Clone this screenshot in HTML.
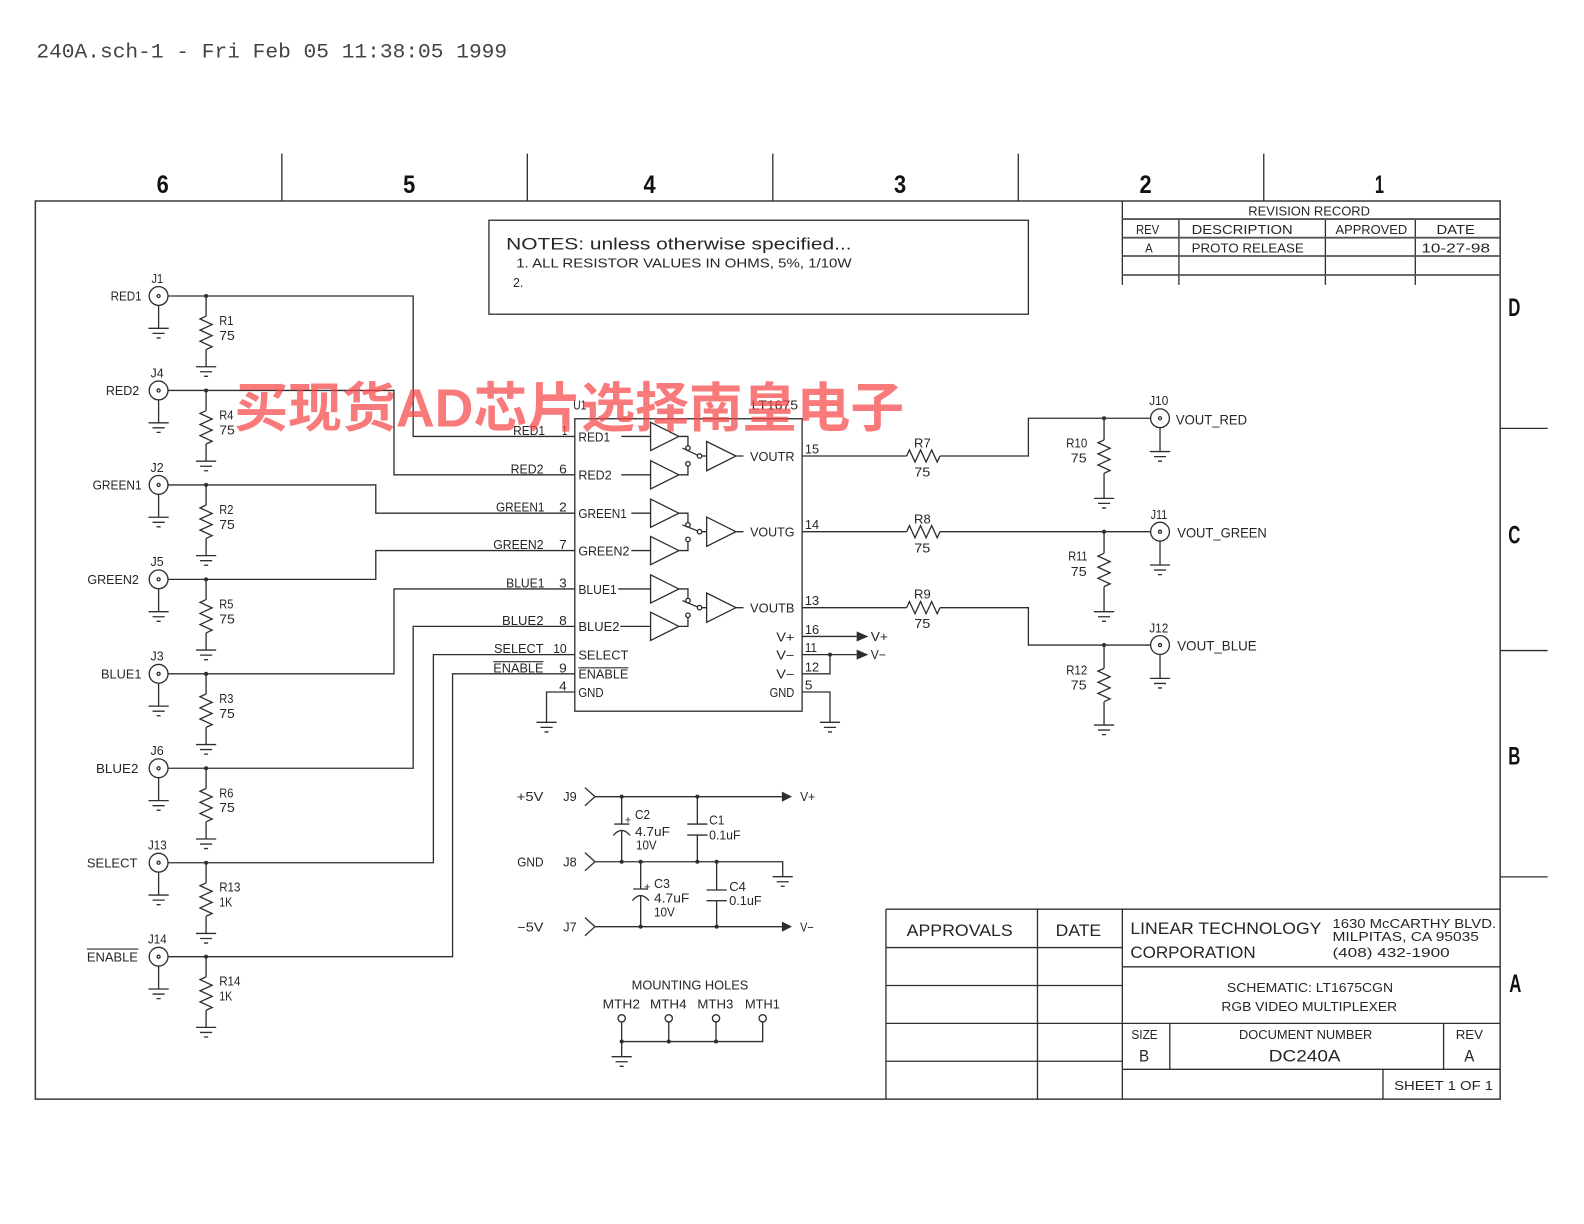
<!DOCTYPE html>
<html><head><meta charset="utf-8"><style>
html,body{margin:0;padding:0;background:#fff;}
svg{display:block;}
text{font-family:"Liberation Sans","Noto Sans CJK SC",sans-serif;fill:#262626;}
.m{font-family:"Liberation Mono",monospace;fill:#444;}
.b{font-weight:bold;fill:#111;}
</style></head><body>
<svg width="1584" height="1224" viewBox="0 0 1568 1211.6" xmlns="http://www.w3.org/2000/svg">
<defs>
 <path id="gnd" d="M-10,0H10M-6,5H6M-2,9.5H2"/>
 <g id="bnc"><circle r="9.3"/><circle r="1.5"/></g>
 <path id="rv" d="M0,0l-6,2.75l12,5.5l-12,5.5l12,5.5l-12,5.5l12,5.5l-6,2.75"/>
 <path id="rh" d="M0,0l2.75,-6l5.5,12l5.5,-12l5.5,12l5.5,-12l5.5,12l2.75,-6"/>
</defs>
<rect x="0" y="0" width="1568" height="1212" fill="#fff"/>

<text class="m" x="36" y="57" font-size="20.5" textLength="466" lengthAdjust="spacingAndGlyphs">240A.sch-1 - Fri Feb 05 11:38:05 1999</text>

<g stroke="#2e2e2e" stroke-width="1.3" fill="none">
<path d="M35,199H1485V1088H35Z" stroke="#3a3a3a" stroke-width="1.5"/>
<path d="M279,152V199M522,152V199M765,152V199M1008,152V199M1251,152V199M1485,424H1532M1485,644H1532M1485,868H1532"/>
<rect x="484" y="218" width="534" height="93"/>
<path d="M1111,199V282M1167,216.8V282M1312,216.8V282M1401,216.8V282"/>
<path d="M1111,216.8H1485M1111,235.3H1485M1111,253.4H1485M1111,272.2H1485" stroke="#555" stroke-width="1.8"/>
<path d="M877,900H1485M877,900V1088M1027,900V1088M1111,900V1088M877,938H1111M877,975.5H1111M877,1013H1111M877,1050.5H1111M1111,957H1485M1111,1013H1485M1111,1058.5H1485M1158,1013V1058.5M1429,1013V1058.5M1369,1058.5V1088"/>

<path d="M166,293H409V432H569M157,302V325M204,293V313M204,346V363"/>
<use href="#bnc" x="157" y="293"/><use href="#gnd" x="157" y="325"/><use href="#rv" x="204" y="313"/><use href="#gnd" x="204" y="363"/>
<path d="M166,386.5H390V470H569M157,395.5V418.5M204,386.5V406.5M204,439.5V456.5"/>
<use href="#bnc" x="157" y="386.5"/><use href="#gnd" x="157" y="418.5"/><use href="#rv" x="204" y="406.5"/><use href="#gnd" x="204" y="456.5"/>
<path d="M166,480H372V508H569M157,489V512M204,480V500M204,533V550"/>
<use href="#bnc" x="157" y="480"/><use href="#gnd" x="157" y="512"/><use href="#rv" x="204" y="500"/><use href="#gnd" x="204" y="550"/>
<path d="M166,573.5H372V545H569M157,582.5V605.5M204,573.5V593.5M204,626.5V643.5"/>
<use href="#bnc" x="157" y="573.5"/><use href="#gnd" x="157" y="605.5"/><use href="#rv" x="204" y="593.5"/><use href="#gnd" x="204" y="643.5"/>
<path d="M166,667H390V583H569M157,676V699M204,667V687M204,720V737"/>
<use href="#bnc" x="157" y="667"/><use href="#gnd" x="157" y="699"/><use href="#rv" x="204" y="687"/><use href="#gnd" x="204" y="737"/>
<path d="M166,760.5H409V620H569M157,769.5V792.5M204,760.5V780.5M204,813.5V830.5"/>
<use href="#bnc" x="157" y="760.5"/><use href="#gnd" x="157" y="792.5"/><use href="#rv" x="204" y="780.5"/><use href="#gnd" x="204" y="830.5"/>
<path d="M166,854H429V648H569M157,863V886M204,854V874M204,907V924"/>
<use href="#bnc" x="157" y="854"/><use href="#gnd" x="157" y="886"/><use href="#rv" x="204" y="874"/><use href="#gnd" x="204" y="924"/>
<path d="M166,947H448V667H569M157,956V979M204,947V967M204,1000V1017"/>
<use href="#bnc" x="157" y="947"/><use href="#gnd" x="157" y="979"/><use href="#rv" x="204" y="967"/><use href="#gnd" x="204" y="1017"/>

<path d="M86,939.5H137M488.3,655H538M572.5,661H622" stroke-width="1.1"/>

<rect x="569" y="414.5" width="225" height="289.5"/>
<path d="M569,685H541V715M794,630H848M794,648H848M794,667H821.6V648M794,685H821.6V715"/>
<use href="#gnd" x="541" y="715"/><use href="#gnd" x="821.6" y="715"/>
<path d="M615,432H644M615,470H644M625,508H644M625,545H644M612,583H644M614,620H644"/>
<path d="M644,418L672,432L644,446ZM644,456L672,470L644,484ZM699.5,437L728.5,451.4L699.5,466ZM672,432H681V441.3M672,470H681V461.2M675.5,443.5L690.5,450.6M694.7,451.4H699.5M728.5,451.4H736"/>
<circle cx="681" cy="443.5" r="2.2"/><circle cx="681" cy="459" r="2.2"/><circle cx="692.5" cy="451.4" r="2.2"/>
<path d="M644,494L672,508L644,522ZM644,531L672,545L644,559ZM699.5,511.8L728.5,526.3L699.5,540.8ZM672,508H681V517.3M672,545H681V536.2M675.5,519.5L690.5,525.5M694.7,526.3H699.5M728.5,526.3H736"/>
<circle cx="681" cy="519.5" r="2.2"/><circle cx="681" cy="534" r="2.2"/><circle cx="692.5" cy="526.3" r="2.2"/>
<path d="M644,569L672,583L644,597ZM644,606L672,620L644,634ZM699.5,587L728.5,601.5L699.5,616ZM672,583H681V592.3M672,620H681V611.2M675.5,594.5L690.5,600.7M694.7,601.5H699.5M728.5,601.5H736"/>
<circle cx="681" cy="594.5" r="2.2"/><circle cx="681" cy="609" r="2.2"/><circle cx="692.5" cy="601.5" r="2.2"/>

<path d="M794,451.4H897.5M930.5,451.4H1018V414H1138.8M1092.9,414V435.5M1092.9,468.5V493.3M1148.3,423.5V447"/>
<use href="#rh" x="897.5" y="451.4"/><use href="#rv" x="1092.9" y="435.5"/><use href="#gnd" x="1092.9" y="493.3"/><use href="#bnc" x="1148.3" y="414"/><use href="#gnd" x="1148.3" y="447"/>
<path d="M794,526.3H897.5M930.5,526.3H1138.8M1092.9,526.3V547.7M1092.9,580.7V605.5M1148.3,535.8V559.3"/>
<use href="#rh" x="897.5" y="526.3"/><use href="#rv" x="1092.9" y="547.7"/><use href="#gnd" x="1092.9" y="605.5"/><use href="#bnc" x="1148.3" y="526.3"/><use href="#gnd" x="1148.3" y="559.3"/>
<path d="M794,601.5H897.5M930.5,601.5H1018V638.5H1138.8M1092.9,638.5V661.6M1092.9,694.6V717.7M1148.3,648V671.5"/>
<use href="#rh" x="897.5" y="601.5"/><use href="#rv" x="1092.9" y="661.6"/><use href="#gnd" x="1092.9" y="717.7"/><use href="#bnc" x="1148.3" y="638.5"/><use href="#gnd" x="1148.3" y="671.5"/>

<path d="M579,779.6L589,788.6L579,797.6M589,788.6H774M579,844L589,853L579,862M589,853H774.8V867.8M579,908.3L589,917.3L579,926.3M589,917.3H774"/>
<use href="#gnd" x="774.8" y="867.8"/>
<path d="M615.4,788.6V815.7M608,815.7H623M607,827Q615.4,817 623.8,827M615.4,822.3V853"/>
<path d="M690.3,788.6V815.7M680.3,815.7H700.3M680.3,826.6H700.3M690.3,826.6V853"/>
<path d="M634.2,853V880M626.8,880H641.6M626,891.5Q634.2,881.5 642.4,891.5M634.2,886.8V917.3"/>
<path d="M709.4,853V881M699.4,881H719.4M699.4,891.6H719.4M709.4,891.6V917.3"/>

<circle cx="615.4" cy="1008" r="3.6"/><circle cx="662" cy="1008" r="3.6"/><circle cx="708.8" cy="1008" r="3.6"/><circle cx="755" cy="1008" r="3.6"/>
<path d="M615.4,1011.6V1046M662,1011.6V1031M708.8,1011.6V1031M755,1011.6V1031H615.4"/>
<use href="#gnd" x="615.4" y="1046"/>
</g>

<g fill="#2e2e2e" stroke="none">
<path d="M848,625L859.5,630L848,635ZM848,643L859.5,648L848,653ZM774,783.6L784,788.6L774,793.6ZM774,912.3L784,917.3L774,922.3Z"/>
<circle cx="204" cy="293" r="2"/><circle cx="204" cy="386.5" r="2"/><circle cx="204" cy="480" r="2"/><circle cx="204" cy="573.5" r="2"/>
<circle cx="204" cy="667" r="2"/><circle cx="204" cy="760.5" r="2"/><circle cx="204" cy="854" r="2"/><circle cx="204" cy="947" r="2"/>
<circle cx="821.6" cy="648" r="2"/>
<circle cx="1092.9" cy="414" r="2"/><circle cx="1092.9" cy="526.3" r="2"/><circle cx="1092.9" cy="638.5" r="2"/>
<circle cx="615.4" cy="788.6" r="2"/><circle cx="690.3" cy="788.6" r="2"/><circle cx="615.4" cy="853" r="2"/><circle cx="634.2" cy="853" r="2"/>
<circle cx="690.3" cy="853" r="2"/><circle cx="709.4" cy="853" r="2"/><circle cx="634.2" cy="917.3" r="2"/><circle cx="709.4" cy="917.3" r="2"/>
<circle cx="615.4" cy="1031" r="2"/><circle cx="662" cy="1031" r="2"/><circle cx="708.8" cy="1031" r="2"/>
</g>

<g class="b" font-size="25">
<text class="b" x="155" y="191" textLength="12" lengthAdjust="spacingAndGlyphs">6</text>
<text class="b" x="399" y="191" textLength="12" lengthAdjust="spacingAndGlyphs">5</text>
<text class="b" x="637" y="191" textLength="12" lengthAdjust="spacingAndGlyphs">4</text>
<text class="b" x="885" y="191" textLength="12" lengthAdjust="spacingAndGlyphs">3</text>
<text class="b" x="1128" y="191" textLength="12" lengthAdjust="spacingAndGlyphs">2</text>
<text class="b" x="1361" y="191" textLength="9" lengthAdjust="spacingAndGlyphs">1</text>
<text class="b" x="1493" y="313" textLength="12" lengthAdjust="spacingAndGlyphs">D</text>
<text class="b" x="1493" y="538" textLength="12" lengthAdjust="spacingAndGlyphs">C</text>
<text class="b" x="1493" y="757" textLength="12" lengthAdjust="spacingAndGlyphs">B</text>
<text class="b" x="1494" y="982" textLength="12" lengthAdjust="spacingAndGlyphs">A</text>
</g>

<text x="501" y="247" font-size="16" textLength="342" lengthAdjust="spacingAndGlyphs">NOTES: unless otherwise specified...</text>
<text x="511" y="265" font-size="12.5" textLength="332" lengthAdjust="spacingAndGlyphs">1. ALL RESISTOR VALUES IN OHMS, 5%, 1/10W</text>
<text x="508" y="284" font-size="12.5" textLength="10" lengthAdjust="spacingAndGlyphs">2.</text>

<g font-size="12.5">
<text x="1235.7" y="213.5" font-size="12.5" textLength="120.5" lengthAdjust="spacingAndGlyphs">REVISION RECORD</text>
<text x="1124.5" y="231.5" font-size="12.5" textLength="23" lengthAdjust="spacingAndGlyphs">REV</text>
<text x="1179.6" y="231.5" font-size="12.5" textLength="100" lengthAdjust="spacingAndGlyphs">DESCRIPTION</text>
<text x="1322" y="231.5" font-size="12.5" textLength="71" lengthAdjust="spacingAndGlyphs">APPROVED</text>
<text x="1422" y="231.5" font-size="12.5" textLength="38" lengthAdjust="spacingAndGlyphs">DATE</text>
<text x="1133.5" y="250" font-size="12.5" textLength="7.5" lengthAdjust="spacingAndGlyphs">A</text>
<text x="1179.6" y="250" font-size="12.5" textLength="111" lengthAdjust="spacingAndGlyphs">PROTO RELEASE</text>
<text x="1407" y="250" font-size="12.5" textLength="68" lengthAdjust="spacingAndGlyphs">10-27-98</text>
</g>

<text x="897.5" y="926.5" font-size="16.5" textLength="105" lengthAdjust="spacingAndGlyphs">APPROVALS</text>
<text x="1045" y="926.5" font-size="16.5" textLength="45" lengthAdjust="spacingAndGlyphs">DATE</text>
<text x="1119" y="924.5" font-size="16.5" textLength="189" lengthAdjust="spacingAndGlyphs">LINEAR TECHNOLOGY</text>
<text x="1119" y="948.5" font-size="16.5" textLength="124" lengthAdjust="spacingAndGlyphs">CORPORATION</text>
<text x="1319" y="918.5" font-size="12.5" textLength="162" lengthAdjust="spacingAndGlyphs">1630 McCARTHY BLVD.</text>
<text x="1319" y="931.5" font-size="12.5" textLength="145" lengthAdjust="spacingAndGlyphs">MILPITAS, CA 95035</text>
<text x="1319" y="947.5" font-size="12.5" textLength="116" lengthAdjust="spacingAndGlyphs">(408) 432-1900</text>
<text x="1214.5" y="982" font-size="12.5" textLength="164.5" lengthAdjust="spacingAndGlyphs">SCHEMATIC: LT1675CGN</text>
<text x="1209" y="1001" font-size="12.5" textLength="174" lengthAdjust="spacingAndGlyphs">RGB VIDEO MULTIPLEXER</text>
<text x="1120" y="1028.5" font-size="12.5" textLength="26" lengthAdjust="spacingAndGlyphs">SIZE</text>
<text x="1127.5" y="1051" font-size="16" textLength="10" lengthAdjust="spacingAndGlyphs">B</text>
<text x="1226.5" y="1028.5" font-size="12.5" textLength="132" lengthAdjust="spacingAndGlyphs">DOCUMENT NUMBER</text>
<text x="1256" y="1051" font-size="16.5" textLength="71" lengthAdjust="spacingAndGlyphs">DC240A</text>
<text x="1441" y="1028.5" font-size="12.5" textLength="27" lengthAdjust="spacingAndGlyphs">REV</text>
<text x="1449.5" y="1051" font-size="16" textLength="10" lengthAdjust="spacingAndGlyphs">A</text>
<text x="1380" y="1079" font-size="12.5" textLength="98" lengthAdjust="spacingAndGlyphs">SHEET 1 OF 1</text>

<g font-size="13">
<text x="150" y="280" textLength="11.5" lengthAdjust="spacingAndGlyphs">J1</text>
<text x="149" y="373.5" textLength="13" lengthAdjust="spacingAndGlyphs">J4</text>
<text x="149" y="467" textLength="13" lengthAdjust="spacingAndGlyphs">J2</text>
<text x="149" y="560.5" textLength="13" lengthAdjust="spacingAndGlyphs">J5</text>
<text x="149" y="654" textLength="13" lengthAdjust="spacingAndGlyphs">J3</text>
<text x="149" y="747.5" textLength="13" lengthAdjust="spacingAndGlyphs">J6</text>
<text x="146.5" y="841" textLength="18.5" lengthAdjust="spacingAndGlyphs">J13</text>
<text x="146.5" y="934" textLength="18.5" lengthAdjust="spacingAndGlyphs">J14</text>
</g>
<g font-size="12.5">
<text x="109.5" y="297.6" textLength="30.7" lengthAdjust="spacingAndGlyphs">RED1</text>
<text x="104.8" y="391.1" textLength="33" lengthAdjust="spacingAndGlyphs">RED2</text>
<text x="91.7" y="484.6" textLength="48.5" lengthAdjust="spacingAndGlyphs">GREEN1</text>
<text x="86.5" y="578.1" textLength="51" lengthAdjust="spacingAndGlyphs">GREEN2</text>
<text x="100" y="671.6" textLength="40" lengthAdjust="spacingAndGlyphs">BLUE1</text>
<text x="95" y="765.1" textLength="42" lengthAdjust="spacingAndGlyphs">BLUE2</text>
<text x="86" y="858.6" textLength="50" lengthAdjust="spacingAndGlyphs">SELECT</text>
<text x="86" y="952" textLength="50.5" lengthAdjust="spacingAndGlyphs">ENABLE</text>
</g>
<g font-size="13">
<text x="217" y="321.7" textLength="14" lengthAdjust="spacingAndGlyphs">R1</text><text x="217" y="336.5" textLength="15.5" lengthAdjust="spacingAndGlyphs">75</text>
<text x="217" y="415.2" textLength="14" lengthAdjust="spacingAndGlyphs">R4</text><text x="217" y="430" textLength="15.5" lengthAdjust="spacingAndGlyphs">75</text>
<text x="217" y="508.7" textLength="14" lengthAdjust="spacingAndGlyphs">R2</text><text x="217" y="523.5" textLength="15.5" lengthAdjust="spacingAndGlyphs">75</text>
<text x="217" y="602.2" textLength="14" lengthAdjust="spacingAndGlyphs">R5</text><text x="217" y="617" textLength="15.5" lengthAdjust="spacingAndGlyphs">75</text>
<text x="217" y="695.7" textLength="14" lengthAdjust="spacingAndGlyphs">R3</text><text x="217" y="710.5" textLength="15.5" lengthAdjust="spacingAndGlyphs">75</text>
<text x="217" y="789.2" textLength="14" lengthAdjust="spacingAndGlyphs">R6</text><text x="217" y="804" textLength="15.5" lengthAdjust="spacingAndGlyphs">75</text>
<text x="217" y="882.7" textLength="21" lengthAdjust="spacingAndGlyphs">R13</text><text x="217" y="897.5" textLength="13" lengthAdjust="spacingAndGlyphs">1K</text>
<text x="217" y="975.7" textLength="21" lengthAdjust="spacingAndGlyphs">R14</text><text x="217" y="990.5" textLength="13" lengthAdjust="spacingAndGlyphs">1K</text>
</g>

<g font-size="12.5">
<text x="567.4" y="405.5" textLength="13" lengthAdjust="spacingAndGlyphs">U1</text>
<text x="744" y="405.5" textLength="46" lengthAdjust="spacingAndGlyphs">LT1675</text>
<text x="508" y="430.5" textLength="31.5" lengthAdjust="spacingAndGlyphs">RED1</text><text x="556.5" y="430.5" textLength="5" lengthAdjust="spacingAndGlyphs">1</text>
<text x="505.5" y="468.5" textLength="32.5" lengthAdjust="spacingAndGlyphs">RED2</text><text x="553.5" y="468.5" textLength="7.5" lengthAdjust="spacingAndGlyphs">6</text>
<text x="491" y="506.5" textLength="48" lengthAdjust="spacingAndGlyphs">GREEN1</text><text x="553.5" y="506.5" textLength="7.5" lengthAdjust="spacingAndGlyphs">2</text>
<text x="488.3" y="543.5" textLength="49.7" lengthAdjust="spacingAndGlyphs">GREEN2</text><text x="553.5" y="543.5" textLength="7.5" lengthAdjust="spacingAndGlyphs">7</text>
<text x="501" y="581.5" textLength="38" lengthAdjust="spacingAndGlyphs">BLUE1</text><text x="553.5" y="581.5" textLength="7.5" lengthAdjust="spacingAndGlyphs">3</text>
<text x="497" y="618.5" textLength="41" lengthAdjust="spacingAndGlyphs">BLUE2</text><text x="553.5" y="618.5" textLength="7.5" lengthAdjust="spacingAndGlyphs">8</text>
<text x="489" y="646.5" textLength="49" lengthAdjust="spacingAndGlyphs">SELECT</text><text x="547.5" y="646.5" textLength="13.5" lengthAdjust="spacingAndGlyphs">10</text>
<text x="488.3" y="665.5" textLength="49.7" lengthAdjust="spacingAndGlyphs">ENABLE</text><text x="553.5" y="665.5" textLength="7.5" lengthAdjust="spacingAndGlyphs">9</text>
<text x="553.5" y="683.5" textLength="7.5" lengthAdjust="spacingAndGlyphs">4</text>

<text x="572.5" y="436.8" textLength="31.5" lengthAdjust="spacingAndGlyphs">RED1</text>
<text x="572.5" y="474.8" textLength="33" lengthAdjust="spacingAndGlyphs">RED2</text>
<text x="572.5" y="512.8" textLength="48" lengthAdjust="spacingAndGlyphs">GREEN1</text>
<text x="572.5" y="549.8" textLength="50.5" lengthAdjust="spacingAndGlyphs">GREEN2</text>
<text x="572.5" y="587.8" textLength="38" lengthAdjust="spacingAndGlyphs">BLUE1</text>
<text x="572.5" y="624.8" textLength="40.7" lengthAdjust="spacingAndGlyphs">BLUE2</text>
<text x="572.5" y="652.8" textLength="49.5" lengthAdjust="spacingAndGlyphs">SELECT</text>
<text x="572.5" y="671.8" textLength="49.5" lengthAdjust="spacingAndGlyphs">ENABLE</text>
<text x="572.5" y="689.8" textLength="25" lengthAdjust="spacingAndGlyphs">GND</text>

<text x="742.5" y="456.2" textLength="44" lengthAdjust="spacingAndGlyphs">VOUTR</text>
<text x="742.5" y="531.1" textLength="44" lengthAdjust="spacingAndGlyphs">VOUTG</text>
<text x="742.5" y="606.3" textLength="44" lengthAdjust="spacingAndGlyphs">VOUTB</text>
<text x="768.4" y="634.8" textLength="18" lengthAdjust="spacingAndGlyphs">V+</text>
<text x="768.4" y="652.8" textLength="18" lengthAdjust="spacingAndGlyphs">V−</text>
<text x="768.4" y="671.8" textLength="18" lengthAdjust="spacingAndGlyphs">V−</text>
<text x="761.8" y="689.8" textLength="24.5" lengthAdjust="spacingAndGlyphs">GND</text>

<text x="796.8" y="449" textLength="14" lengthAdjust="spacingAndGlyphs">15</text>
<text x="796.8" y="523.8" textLength="14" lengthAdjust="spacingAndGlyphs">14</text>
<text x="796.8" y="599" textLength="14" lengthAdjust="spacingAndGlyphs">13</text>
<text x="796.8" y="627.5" textLength="14" lengthAdjust="spacingAndGlyphs">16</text>
<text x="796.8" y="645.5" textLength="12" lengthAdjust="spacingAndGlyphs">11</text>
<text x="796.8" y="664.5" textLength="14" lengthAdjust="spacingAndGlyphs">12</text>
<text x="796.8" y="682.5" textLength="7.5" lengthAdjust="spacingAndGlyphs">5</text>
</g>

<g font-size="13">
<text x="862" y="634.5" font-size="12.5" textLength="17" lengthAdjust="spacingAndGlyphs">V+</text>
<text x="862" y="652.5" font-size="12.5" textLength="15" lengthAdjust="spacingAndGlyphs">V−</text>
<text x="904.8" y="442.8" textLength="16.5" lengthAdjust="spacingAndGlyphs">R7</text><text x="905" y="471.8" textLength="16" lengthAdjust="spacingAndGlyphs">75</text>
<text x="904.8" y="518" textLength="16.5" lengthAdjust="spacingAndGlyphs">R8</text><text x="905" y="546.7" textLength="16" lengthAdjust="spacingAndGlyphs">75</text>
<text x="904.8" y="592.6" textLength="16.5" lengthAdjust="spacingAndGlyphs">R9</text><text x="905" y="621.6" textLength="16" lengthAdjust="spacingAndGlyphs">75</text>
<text x="1055.3" y="442.8" textLength="21" lengthAdjust="spacingAndGlyphs">R10</text><text x="1060" y="458" textLength="15.7" lengthAdjust="spacingAndGlyphs">75</text>
<text x="1057.5" y="555" textLength="19" lengthAdjust="spacingAndGlyphs">R11</text><text x="1060" y="570.2" textLength="15.7" lengthAdjust="spacingAndGlyphs">75</text>
<text x="1055.3" y="667.5" textLength="21" lengthAdjust="spacingAndGlyphs">R12</text><text x="1060" y="682.4" textLength="15.7" lengthAdjust="spacingAndGlyphs">75</text>
<text x="1137.7" y="401" textLength="18.8" lengthAdjust="spacingAndGlyphs">J10</text>
<text x="1139" y="513.8" textLength="16.5" lengthAdjust="spacingAndGlyphs">J11</text>
<text x="1137.7" y="626" textLength="18.8" lengthAdjust="spacingAndGlyphs">J12</text>
<text x="1164" y="420" font-size="13.5" textLength="70.5" lengthAdjust="spacingAndGlyphs">VOUT_RED</text>
<text x="1165.4" y="532" font-size="13.5" textLength="88.6" lengthAdjust="spacingAndGlyphs">VOUT_GREEN</text>
<text x="1165.4" y="644" font-size="13.5" textLength="78.6" lengthAdjust="spacingAndGlyphs">VOUT_BLUE</text>
</g>

<g font-size="12.5">
<text x="511.5" y="793" textLength="26.4" lengthAdjust="spacingAndGlyphs">+5V</text>
<text x="557.6" y="793" textLength="13.3" lengthAdjust="spacingAndGlyphs">J9</text>
<text x="792" y="793" textLength="15" lengthAdjust="spacingAndGlyphs">V+</text>
<text x="512" y="857.5" textLength="26" lengthAdjust="spacingAndGlyphs">GND</text>
<text x="557.6" y="857.5" textLength="13.3" lengthAdjust="spacingAndGlyphs">J8</text>
<text x="512" y="922" textLength="26" lengthAdjust="spacingAndGlyphs">−5V</text>
<text x="557.6" y="922" textLength="13.3" lengthAdjust="spacingAndGlyphs">J7</text>
<text x="792" y="922" textLength="13.5" lengthAdjust="spacingAndGlyphs">V−</text>
<text x="618.5" y="815" font-size="11">+</text>
<text x="628.6" y="810.5" textLength="14.8" lengthAdjust="spacingAndGlyphs">C2</text>
<text x="628.6" y="827.5" textLength="34.6" lengthAdjust="spacingAndGlyphs">4.7uF</text>
<text x="629.6" y="841" textLength="20.4" lengthAdjust="spacingAndGlyphs">10V</text>
<text x="702" y="816" textLength="15" lengthAdjust="spacingAndGlyphs">C1</text>
<text x="702" y="831" textLength="31" lengthAdjust="spacingAndGlyphs">0.1uF</text>
<text x="637.5" y="881.5" font-size="11">+</text>
<text x="647.4" y="879" textLength="15.8" lengthAdjust="spacingAndGlyphs">C3</text>
<text x="647.4" y="893.5" textLength="35" lengthAdjust="spacingAndGlyphs">4.7uF</text>
<text x="647.4" y="907" textLength="20.6" lengthAdjust="spacingAndGlyphs">10V</text>
<text x="721.9" y="882" textLength="16.5" lengthAdjust="spacingAndGlyphs">C4</text>
<text x="721.9" y="896" textLength="32" lengthAdjust="spacingAndGlyphs">0.1uF</text>
<text x="625.3" y="979.5" textLength="115.5" lengthAdjust="spacingAndGlyphs">MOUNTING HOLES</text>
<text x="596.5" y="998.5" textLength="37" lengthAdjust="spacingAndGlyphs">MTH2</text>
<text x="643.4" y="998.5" textLength="36.3" lengthAdjust="spacingAndGlyphs">MTH4</text>
<text x="690.3" y="998.5" textLength="35.7" lengthAdjust="spacingAndGlyphs">MTH3</text>
<text x="737.5" y="998.5" textLength="34.5" lengthAdjust="spacingAndGlyphs">MTH1</text>
</g>

<text x="232" y="422" font-size="53" font-weight="bold" style="fill:rgba(246,70,70,0.72);font-family:'Liberation Sans','Noto Sans CJK SC',sans-serif" textLength="663" lengthAdjust="spacingAndGlyphs">买现货AD芯片选择南皇电子</text>
</svg>
</body></html>
